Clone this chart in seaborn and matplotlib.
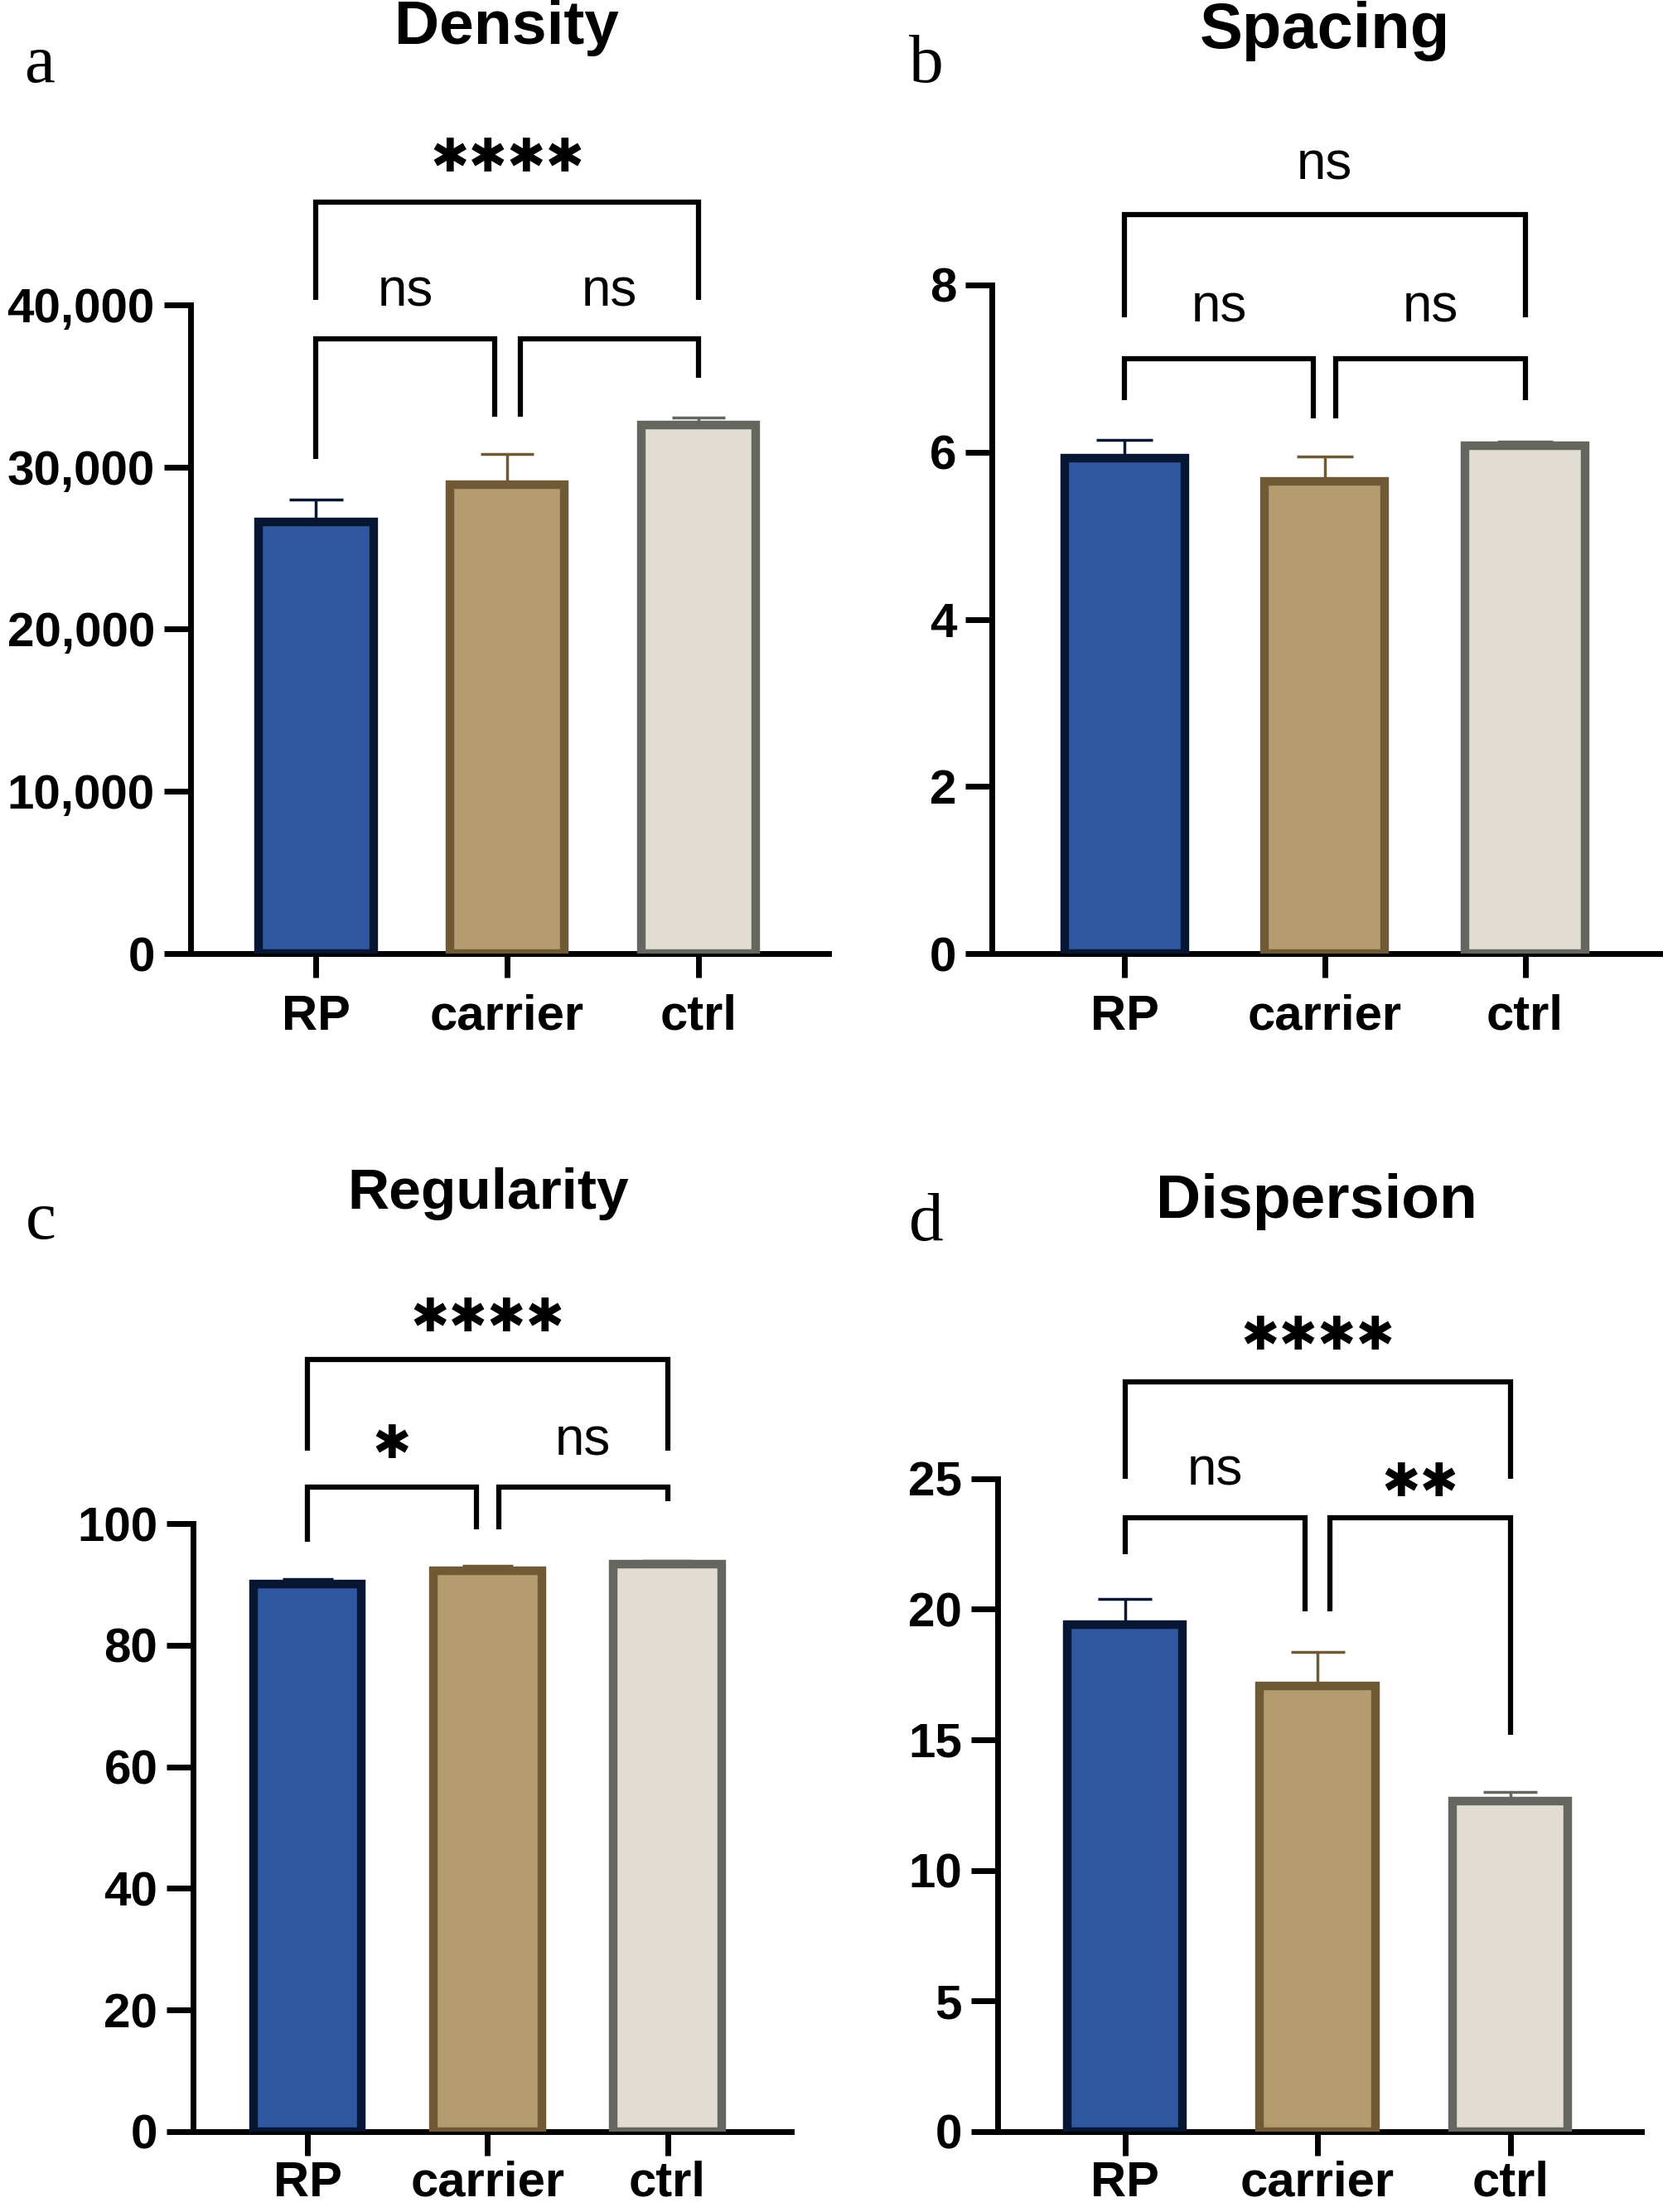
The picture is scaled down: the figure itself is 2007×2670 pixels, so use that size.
import numpy as np
import matplotlib
matplotlib.use("Agg")
import matplotlib.pyplot as plt
import seaborn as sns
from matplotlib.ticker import StrMethodFormatter

sns.set_style("ticks")
plt.rcParams['font.family'] = ['Liberation Sans', 'DejaVu Sans']
plt.rcParams['text.color'] = 'black'
plt.rcParams['axes.edgecolor'] = 'black'
plt.rcParams['xtick.color'] = 'black'
plt.rcParams['ytick.color'] = 'black'

# data (mean, sem)
groups = ["RP", "carrier", "ctrl"]

density_mean = [26600, 28900, 32600]
density_sem = [1400, 1900, 450]

spacing_mean = [5.93, 5.65, 6.08]
spacing_sem = [0.22, 0.30, 0.05]

regularity_mean = [90.0, 92.2, 93.3]
regularity_sem = [0.9, 0.9, 0.6]

dispersion_mean = [19.4, 17.05, 12.65]
dispersion_sem = [1.0, 1.3, 0.35]

# significance labels: RP-carrier, carrier-ctrl, RP-ctrl
density_sig = ["ns", "ns", "****"]
spacing_sig = ["ns", "ns", "ns"]
regularity_sig = ["*", "ns", "****"]
dispersion_sig = ["ns", "**", "****"]

fills = ["#2F58A0", "#B59C70", "#E1DDD2"]
edges = ["#071633", "#705A36", "#666661"]

W, H = 1179.0, 1568.0  # layout grid (scaled to 2008 x 2670 px)


def fx(x):
    return x / W


def fy(y):
    return 1 - y / H


fig = plt.figure(figsize=(20.08, 26.70), dpi=100)


def bracket(ax, x1, x2, y, yl, yr, label, ly):
    ax.plot([x1, x1, x2, x2], [yl, y, y, yr], color="black", lw=4.5,
            clip_on=False, solid_joinstyle="miter", solid_capstyle="butt")
    if "*" in label:
        ax.text((x1 + x2) / 2, ly, label.replace("*", "\u2731"), ha="center", va="center",
                fontsize=40, family="DejaVu Sans", clip_on=False)
    else:
        ax.text((x1 + x2) / 2, ly, label, ha="center", va="center",
                fontsize=46, clip_on=False)


def panel(box, xlim, ymax, step, means, sems, sig, br, title, tpos, letter, lpos,
          fmt=None, xpad=14, tsize=54):
    left, right, bottom, top = box
    ax = fig.add_axes([fx(left), fy(bottom), fx(right - left), (bottom - top) / H])
    df = {"group": groups, "value": means}
    sns.barplot(x="group", y="value", hue="group", data=df, order=groups,
                palette=fills, saturation=1, width=0.6, errorbar=None, legend=False,
                linewidth=7.5, ax=ax, zorder=3)
    for p, ec in zip(ax.patches, edges):
        p.set_edgecolor(ec)
        p.set_joinstyle("miter")
    # upper error bars (mean + SEM)
    for i, (m, s) in enumerate(zip(means, sems)):
        ax.vlines(i, m, m + s, color=edges[i], lw=2.5, zorder=2)
        ax.hlines(m + s, i - 0.14, i + 0.14, color=edges[i], lw=2.5, zorder=2)
    ax.set_xlim(*xlim)
    ax.set_ylim(0, ymax)
    ax.set_yticks(np.arange(0, ymax + step / 2, step))
    if fmt:
        ax.yaxis.set_major_formatter(StrMethodFormatter(fmt))
    sns.despine(ax=ax)
    for sp in ["left", "bottom"]:
        ax.spines[sp].set_linewidth(5)
    ax.tick_params(axis="y", length=23, width=5, pad=8, labelsize=42)
    ax.tick_params(axis="x", length=21, width=5, pad=xpad, labelsize=43)
    for t in ax.get_xticklabels() + ax.get_yticklabels():
        t.set_fontweight("bold")
    ax.set_xlabel("")
    ax.set_ylabel("")
    # brackets
    (y1, l1, r1, t1), (y2, l2, r2, t2), (y3, l3, r3, t3), gap = br
    bracket(ax, 0, 1 - gap, y1, l1, r1, sig[0], t1)
    bracket(ax, 1 + gap, 2, y2, l2, r2, sig[1], t2)
    bracket(ax, 0, 2, y3, l3, r3, sig[2], t3)
    fig.text(fx(tpos[0]), fy(tpos[1]), title, ha="center", va="baseline",
             fontsize=tsize, fontweight="bold")
    fig.text(fx(lpos[0]), fy(lpos[1]), letter, ha="left", va="baseline",
             fontsize=60, family="Liberation Serif")
    return ax


panel((135, 587, 676, 216), (-0.657, 2.68), 40000, 10000,
      density_mean, density_sem, density_sig,
      ((37900, 30500, 33100, 40800), (37900, 33100, 35500, 40800),
       (46300, 40300, 40300, 49000), 0.067),
      "Density", (359, 31), "a", (17, 58), fmt="{x:,.0f}")

panel((703, 1180, 676, 202), (-0.662, 2.70), 8, 2,
      spacing_mean, spacing_sem, spacing_sig,
      ((7.12, 6.62, 6.40, 7.73), (7.12, 6.40, 6.62, 7.73),
       (8.84, 7.61, 7.61, 9.43), 0.056),
      "Spacing", (939, 34), "b", (644, 58), tsize=56)

panel((137, 561, 1511, 1080), (-0.635, 2.69), 100, 20,
      regularity_mean, regularity_sem, regularity_sig,
      ((106, 97, 99, 112.8), (106, 99, 103.7, 113.5),
       (127, 112, 112, 133.6), 0.063),
      "Regularity", (346, 857), "c", (18, 878), xpad=4, tsize=50)

panel((707, 1163, 1511, 1048), (-0.66, 2.68), 25, 5,
      dispersion_mean, dispersion_sem, dispersion_sig,
      ((23.5, 22.1, 19.9, 25.3), (23.5, 19.9, 15.2, 24.8),
       (28.7, 25.0, 25.0, 30.4), 0.066),
      "Dispersion", (933, 863), "d", (644, 879), xpad=4)

fig.savefig("out.png", dpi=100)
